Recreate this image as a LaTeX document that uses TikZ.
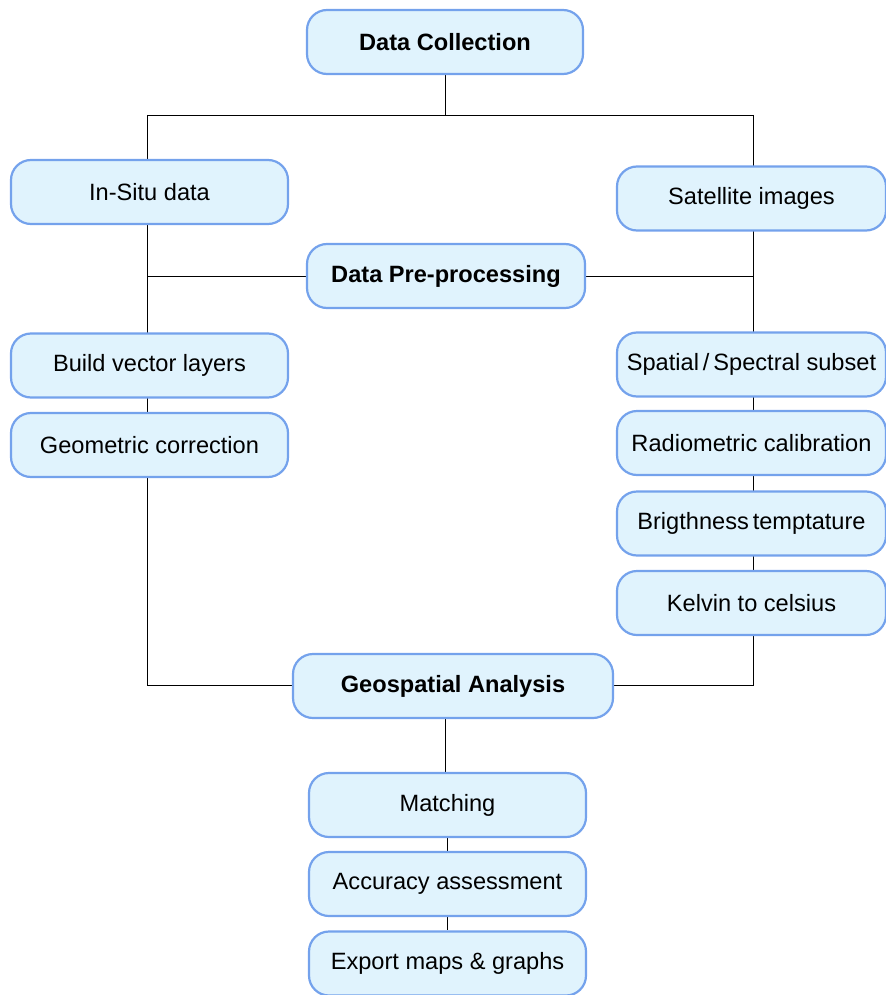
\documentclass[tikz,border=0pt]{standalone}
\usepackage{fontspec}
\setmainfont{Liberation Sans}
\usetikzlibrary{backgrounds}
\definecolor{boxfill}{HTML}{E0F3FD}
\definecolor{boxline}{HTML}{74A2EC}
\begin{document}
\begin{tikzpicture}[x=0.5pt,y=-0.5pt,
    font=\fontsize{11.8}{14}\selectfont,
    box/.style={draw=boxline,fill=boxfill,line width=1.1pt,rounded corners=10pt,
        minimum height=32pt,inner sep=0pt,align=center},
    head/.style={box,font=\fontsize{11.8}{14}\selectfont\bfseries},
    link/.style={black!85,line width=1.4pt}]
    \useasboundingbox (0,0) rectangle (886,995);
    \node[head,minimum width=138pt] (collect) at (445,42) {Data Collection};
    \node[box,minimum width=138.5pt] (insitu) at (149.5,192) {In-Situ data};
    \node[box,minimum width=134.5pt] (sat) at (751.5,198.5) {Satellite images};
    \node[head,minimum width=139pt] (prep) at (446,276) {Data Pre-processing};
    \node[box,minimum width=138.5pt] (vector) at (149.5,365.5) {Build vector layers};
    \node[box,minimum width=138.5pt] (geocorr) at (149.5,445) {Geometric correction};
    \node[box,minimum width=134.5pt] (subset) at (751.5,364.5) {Spatial\,/\,Spectral subset};
    \node[box,minimum width=134.5pt] (radio) at (751.5,443) {Radiometric calibration};
    \node[box,minimum width=134.5pt] (bright) at (751.5,523.5) {Brigthness\,temptature};
    \node[box,minimum width=134.5pt] (kelvin) at (751.5,603) {Kelvin to celsius};
    \node[head,minimum width=160pt] (geo) at (453,686) {Geospatial Analysis};
    \node[box,minimum width=138.5pt] (match) at (447.5,805) {Matching};
    \node[box,minimum width=138.5pt] (acc) at (447.5,884) {Accuracy assessment};
    \node[box,minimum width=138.5pt] (export) at (447.5,963.5) {Export maps \& graphs};
    \coordinate (tl) at (147,115);
    \coordinate (tr) at (753,115);
    \coordinate (bl) at (147,685);
    \coordinate (br) at (753,685);
    \begin{scope}[on background layer,link]
        \draw (collect.south) -- (collect.south |- tl);
        \draw (tl) -- (tr);
        \draw (tl) -- (bl) -- (bl -| geo.west);
        \draw (tr) -- (br) -- (br -| geo.east);
        \draw (prep.west) -- (prep.west -| tl);
        \draw (prep.east) -- (prep.east -| tr);
        \draw (geo.south -| collect) -- (match.north -| collect);
        \draw (match) -- (acc) -- (export);
    \end{scope}
\end{tikzpicture}
\end{document}
